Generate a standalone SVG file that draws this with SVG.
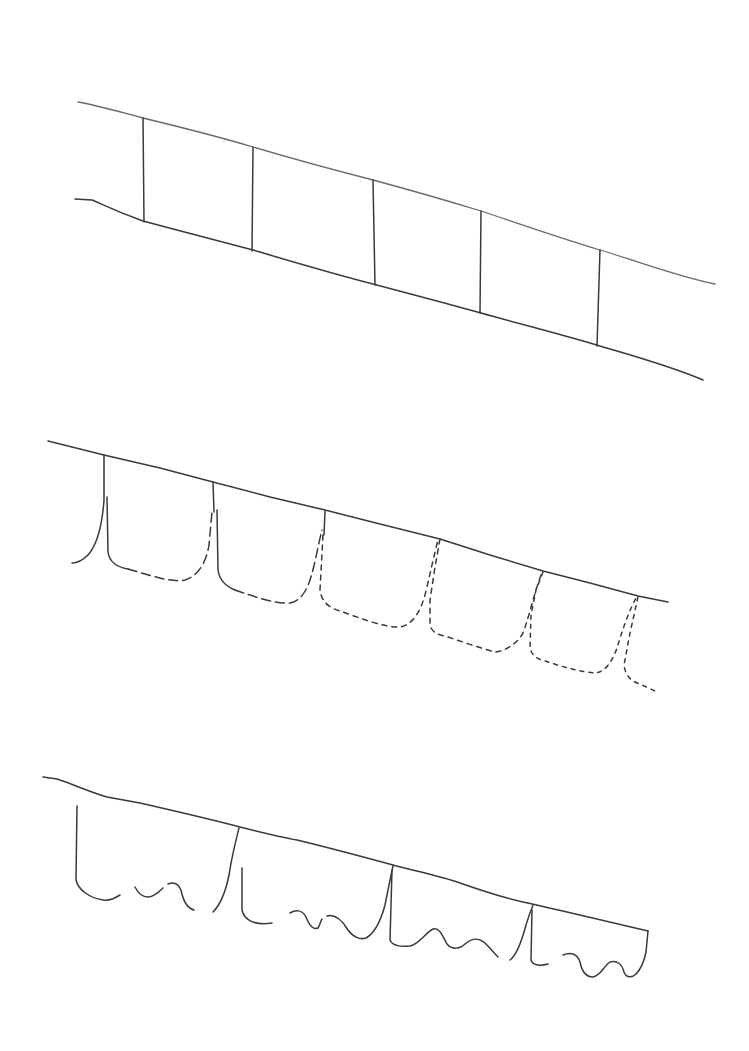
<svg xmlns="http://www.w3.org/2000/svg" width="749" height="1051" viewBox="0 0 749 1051">
<style>
.ln{fill:none;stroke:#3a3a3a;stroke-width:1.5;stroke-linecap:round;stroke-linejoin:round}
.lt{stroke:#6a6a6a;stroke-width:1.3}
.d1{stroke-dasharray:9 5}
.d2{stroke-dasharray:5 5}
.d3{stroke-dasharray:4 5}
</style>
<rect width="749" height="1051" fill="#ffffff"/>
<g id="frieze-1">
<path class="ln lt" d="M78,102 C100,106 120,112 143,118 C180,127 220,137 253,147 C290,158 330,169 373,180 C410,190 445,200 481,211 C520,224 560,238 600,250 C640,262 680,277 715,284"/>
<path class="ln" d="M75,199 L92,200 C100,203 110,209 143,221 C180,231 220,241 253,250 C290,261 330,273 373,284 C410,294 445,303 481,313 C520,324 560,334 600,346 C640,358 670,366 703,380"/>
<path class="ln" d="M143,118 L144,222"/>
<path class="ln" d="M253,147 L252,251"/>
<path class="ln" d="M373,180 L375,285"/>
<path class="ln" d="M481,211 L480,313"/>
<path class="ln" d="M600,250 L597,346"/>
</g>
<g id="frieze-2">
<path class="ln" d="M48,441 L104,455 L160,468 L213,482 L270,497 L325,510 L380,524 L440,539 L490,555 L543,571 L590,583 L638,596 L668,602"/>
<path class="ln" d="M104,455 L104,500 C102,528 96,546 88,555 C83,560 78,563 72,563"/>
<path class="ln" d="M107,497 L108,552 Q110,566 128,569"/>
<path class="ln d1" d="M128,569 C150,575 170,583 185,580 C198,576 206,563 209,545 L212,512"/>
<path class="ln" d="M213,482 L214,512"/>
<path class="ln" d="M217,510 L218,570 Q220,584 235,590"/>
<path class="ln d1" d="M235,590 C255,597 275,604 290,603 C300,601 306,592 310,580 C315,565 318,545 322,530"/>
<path class="ln" d="M325,511 L324,535"/>
<path class="ln d2" d="M323,535 L320,590 Q322,606 340,611 C360,618 385,628 400,627 C412,625 420,613 425,595 C430,575 434,555 438,540"/>
<path class="ln d2" d="M440,539 L435,567 L430,600 L430,625 Q432,634 445,636 C460,641 480,648 495,652 C505,651 515,645 522,635 C528,622 532,600 541,575"/>
<path class="ln d3" d="M543,572 L536,590 L531,615 L530,648 Q532,658 545,661 C560,666 580,672 595,673 C605,672 612,662 617,648 C621,635 627,615 636,598"/>
<path class="ln d3" d="M638,597 L630,633 L624,665 Q626,680 640,684 L657,692"/>
</g>
<g id="frieze-3">
<path class="ln" d="M43,777 L57,779 C75,785 90,792 107,797 L140,803 C175,811 210,819 240,827 C260,832 280,837 297,840 C330,848 360,856 393,865 C415,871 440,876 460,883 C480,890 500,897 523,902 C560,910 600,920 648,931"/>
<path class="ln" d="M77,806 L76,880 C78,890 90,898 103,900 C110,901 115,898 120,895"/>
<path class="ln" d="M135,887 C138,893 143,897 148,897 C153,897 158,893 163,888"/>
<path class="ln" d="M168,884 C173,882 178,883 181,890 C183,900 186,908 194,910"/>
<path class="ln" d="M213,912 C220,905 226,890 229,875 C232,855 236,840 239,828"/>
<path class="ln" d="M242,868 L242,910 C244,920 255,926 272,923"/>
<path class="ln" d="M290,913 C295,910 302,909 306,917 C310,927 314,930 318,928 C320,925 321,920 322,919"/>
<path class="ln" d="M327,916 C335,914 342,920 348,930 C353,937 360,940 366,938 C375,933 381,920 385,905 C388,890 391,875 393,866"/>
<path class="ln" d="M392,870 L390,940 C392,946 402,947 410,946 C420,944 426,932 433,929 C440,927 443,937 447,944 C452,950 460,949 465,944 C472,938 478,937 485,943 C490,948 494,953 498,957"/>
<path class="ln" d="M510,960 C517,955 522,940 526,925 C529,915 531,910 533,905"/>
<path class="ln" d="M532,910 L531,960 C533,966 540,966 548,964"/>
<path class="ln" d="M563,955 C570,952 577,953 580,962 C582,972 586,977 593,977 C600,976 604,966 610,962 C617,960 622,964 624,972 C626,978 632,978 636,974"/>
<path class="ln" d="M648,931 L646,952 C644,962 640,970 636,974"/>
</g>
</svg>
